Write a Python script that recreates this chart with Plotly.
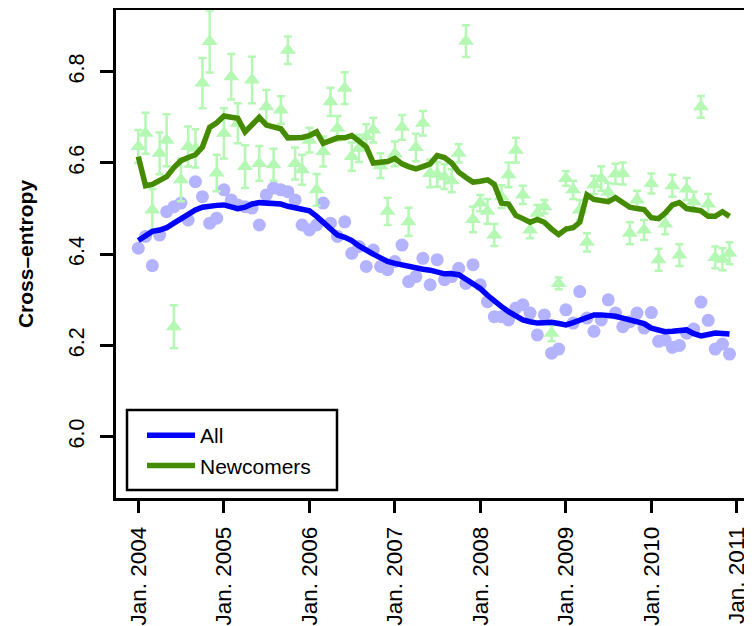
import plotly.graph_objects as go
import pandas as pd

# Monthly series, Jan 2004 - Dec 2010
months = pd.date_range("2004-01-01", periods=84, freq="MS")

all_points = [
    6.413, 6.439, 6.375, 6.442, 6.493, 6.504, 6.512, 6.475, 6.559, 6.526, 6.468, 6.479,
    6.541, 6.519, 6.508, 6.504, 6.501, 6.464, 6.530, 6.545, 6.541, 6.537, 6.519, 6.464,
    6.453, 6.464, 6.512, 6.468, 6.439, 6.471, 6.402, 6.417, 6.373, 6.409, 6.373, 6.366,
    6.384, 6.420, 6.340, 6.351, 6.391, 6.333, 6.388, 6.344, 6.351, 6.369, 6.336, 6.377,
    6.333, 6.296, 6.263, 6.263, 6.256, 6.282, 6.289, 6.271, 6.223, 6.267, 6.183, 6.192,
    6.278, 6.249, 6.318, 6.260, 6.231, 6.256, 6.300, 6.271, 6.241, 6.252, 6.271, 6.238,
    6.272, 6.209, 6.212, 6.196, 6.200, 6.227, 6.236, 6.295, 6.255, 6.192, 6.203, 6.181,
]

all_smooth = [
    6.430, 6.442, 6.450, 6.453, 6.458, 6.468, 6.478, 6.488, 6.497, 6.503, 6.506, 6.507,
    6.508, 6.503, 6.500, 6.503, 6.510, 6.513, 6.513, 6.512, 6.510, 6.505, 6.502, 6.500,
    6.495, 6.483, 6.470, 6.455, 6.442, 6.437, 6.430, 6.418, 6.408, 6.400, 6.392, 6.384,
    6.380, 6.376, 6.373, 6.370, 6.367, 6.365, 6.362, 6.357, 6.357, 6.355, 6.345, 6.335,
    6.325, 6.310, 6.297, 6.285, 6.274, 6.264, 6.256, 6.252, 6.249, 6.250, 6.251, 6.248,
    6.245, 6.250, 6.255, 6.262, 6.267, 6.267, 6.266, 6.264, 6.260, 6.257, 6.253, 6.248,
    6.238, 6.233, 6.230, 6.231, 6.233, 6.234, 6.226, 6.221, 6.224, 6.227, 6.226, 6.225,
]

new_points = [
    6.636, 6.665, 6.497, 6.621, 6.650, 6.241, 6.563, 6.636, 6.632, 6.775, 6.866, 6.578,
    6.665, 6.789, 6.687, 6.592, 6.782, 6.599, 6.723, 6.596, 6.716, 6.847, 6.599, 6.585,
    6.650, 6.541, 6.625, 6.734, 6.676, 6.764, 6.614, 6.632, 6.658, 6.672, 6.594, 6.494,
    6.620, 6.678, 6.471, 6.634, 6.687, 6.577, 6.575, 6.570, 6.561, 6.621, 6.867, 6.476,
    6.512, 6.494, 6.442, 6.526, 6.574, 6.628, 6.530, 6.453, 6.490, 6.504, 6.227, 6.336,
    6.566, 6.541, 6.497, 6.426, 6.552, 6.566, 6.536, 6.576, 6.577, 6.446, 6.519, 6.453,
    6.555, 6.388, 6.466, 6.550, 6.398, 6.543, 6.515, 6.723, 6.510, 6.393, 6.389, 6.402,
]

new_err = [
    0.036, 0.045, 0.046, 0.046, 0.057, 0.047, 0.047, 0.044, 0.042, 0.055, 0.068, 0.040,
    0.055, 0.050, 0.044, 0.047, 0.051, 0.038, 0.037, 0.035, 0.030, 0.030, 0.035, 0.033,
    0.027, 0.035, 0.033, 0.031, 0.027, 0.035, 0.031, 0.030, 0.027, 0.027, 0.027, 0.030,
    0.027, 0.027, 0.031, 0.030, 0.027, 0.030, 0.027, 0.027, 0.025, 0.020, 0.035, 0.028,
    0.018, 0.027, 0.024, 0.025, 0.027, 0.027, 0.020, 0.018, 0.018, 0.015, 0.018, 0.013,
    0.016, 0.020, 0.022, 0.020, 0.020, 0.027, 0.020, 0.022, 0.024, 0.024, 0.020, 0.022,
    0.022, 0.024, 0.022, 0.024, 0.024, 0.024, 0.022, 0.024, 0.022, 0.024, 0.024, 0.024,
]

new_smooth = [
    6.614, 6.550, 6.553, 6.560, 6.570, 6.590, 6.605, 6.612, 6.618, 6.635, 6.678, 6.688,
    6.703, 6.700, 6.698, 6.668, 6.685, 6.700, 6.683, 6.680, 6.675, 6.655, 6.655, 6.656,
    6.660, 6.668, 6.643, 6.650, 6.655, 6.655, 6.660, 6.648, 6.635, 6.600, 6.600, 6.603,
    6.610, 6.598, 6.592, 6.587, 6.592, 6.598, 6.616, 6.612, 6.600, 6.580, 6.568, 6.558,
    6.560, 6.563, 6.553, 6.512, 6.510, 6.485, 6.478, 6.470, 6.476, 6.470, 6.455, 6.443,
    6.455, 6.458, 6.470, 6.530, 6.520, 6.518, 6.515, 6.524, 6.515, 6.503, 6.500, 6.498,
    6.480, 6.478, 6.490, 6.508, 6.513, 6.500, 6.498, 6.495, 6.483, 6.483, 6.493, 6.483,
]

tick_years = list(range(2004, 2012))
tick_dates = [pd.Timestamp(f"{y}-01-01") for y in tick_years]
tick_labels = [f"Jan. {y}" for y in tick_years]
y_ticks = [6.0, 6.2, 6.4, 6.6, 6.8]
y_labels = ["6.0", "6.2", "6.4", "6.6", "6.8"]

FONT = "Liberation Sans, Arial, Helvetica, sans-serif"
BLUE = "#0000FF"
GREEN = "#458B00"
LIGHT_BLUE = "#B3B3FF"
LIGHT_GREEN = "#B4F8B4"

fig = go.Figure()

fig.add_trace(go.Scatter(
    x=months, y=all_points, mode="markers", showlegend=False,
    marker=dict(symbol="circle", size=13, color=LIGHT_BLUE, line=dict(width=0)),
    hoverinfo="skip",
))
fig.add_trace(go.Scatter(
    x=months, y=new_points, mode="markers", showlegend=False,
    marker=dict(symbol="triangle-up", size=14, color=LIGHT_GREEN, line=dict(width=0)),
    error_y=dict(type="data", array=new_err, visible=True, color=LIGHT_GREEN,
                 thickness=2.5, width=4),
    hoverinfo="skip",
))
fig.add_trace(go.Scatter(
    x=months, y=all_smooth, mode="lines", name="All",
    line=dict(color=BLUE, width=5.5),
))
fig.add_trace(go.Scatter(
    x=months, y=new_smooth, mode="lines", name="Newcomers",
    line=dict(color=GREEN, width=5.5),
))

# --- geometry (the page body adds an 8px offset) ---
OFF = 8
W, H = 752 - OFF, 626 - OFF
ML, MR, MT, MB = 108, 0, 2, 128
plot_w = W - ML - MR
plot_h = H - MT - MB
px_per_day = 85.486 / 365.25
left_page = ML + OFF
x_start = pd.Timestamp("2004-01-01") - pd.Timedelta(days=(138.3 - left_page) / px_per_day)
x_end = x_start + pd.Timedelta(days=plot_w / px_per_day)
px_per_unit = 91.25 / 0.2
top_page = MT + OFF
bot_page = H - MB + OFF
y_top = 6.8 + (71.7 - top_page) / px_per_unit
y_bot = 6.0 - (bot_page - 436.7) / px_per_unit


def px_x(page_x):
    return (page_x - left_page) / plot_w


def px_y(page_y):
    return (bot_page - page_y) / plot_h


fig.update_layout(
    width=W, height=H,
    margin=dict(l=ML, r=MR, t=MT, b=MB, pad=0),
    paper_bgcolor="white", plot_bgcolor="white",
    font=dict(family=FONT, color="black", size=21),
    xaxis=dict(
        range=[x_start, x_end], tickmode="array", tickvals=tick_dates, ticktext=tick_labels,
        tickangle=-90, ticks="outside", ticklen=12, tickwidth=2.5, tickcolor="black",
        showline=True, linewidth=2.5, linecolor="black", mirror=True,
        showgrid=False, zeroline=False, tickfont=dict(size=22.5, family=FONT),
        ticklabelstandoff=5, automargin=False,
    ),
    yaxis=dict(
        range=[y_bot, y_top], tickmode="array", tickvals=y_ticks, ticktext=y_labels,
        tickangle=-90, ticks="outside", ticklen=13, tickwidth=2.5, tickcolor="black",
        showline=True, linewidth=2.5, linecolor="black", mirror=False,
        showgrid=False, zeroline=False, tickfont=dict(size=21.5, family=FONT),
        ticklabelstandoff=8, automargin=False,
        title=dict(text="<b>Cross–entropy</b>", font=dict(size=21, family=FONT), standoff=26),
    ),
    legend=dict(
        x=px_x(142), y=px_y(415), xanchor="left", yanchor="top",
        bgcolor="rgba(0,0,0,0)", borderwidth=0, font=dict(size=21, family=FONT),
        itemwidth=48,
    ),
    shapes=[dict(
        type="rect", xref="paper", yref="paper",
        x0=px_x(127), x1=px_x(337), y0=px_y(490), y1=px_y(410),
        line=dict(color="black", width=2.5), fillcolor="white", layer="above",
    )],
)

fig.write_html("out.html")
